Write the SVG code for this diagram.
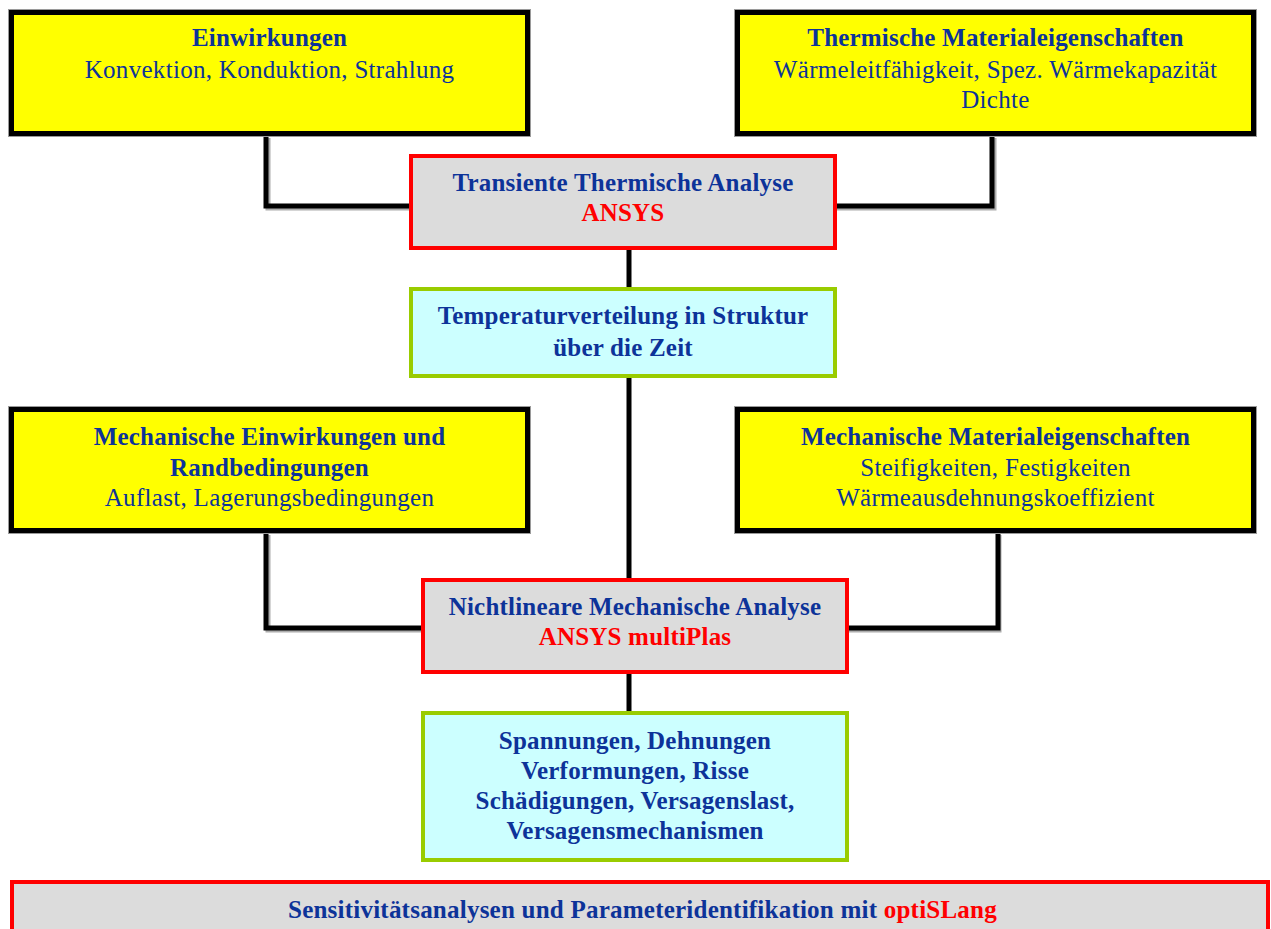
<svg xmlns="http://www.w3.org/2000/svg" width="1271" height="929" viewBox="0 0 1271 929">
<style>
.bg{fill:#FFFFFF}
.y{fill:#FFFF00;stroke:#000000;stroke-width:5}
.ys{fill:none;stroke:#9a9a9a;stroke-width:1}
.r{fill:#DCDCDC;stroke:#FF0000;stroke-width:4}
.g{fill:#CCFFFF;stroke:#99CC00;stroke-width:4}
.c{fill:none;stroke:#000000;stroke-width:5;stroke-linejoin:miter}
.cs{fill:none;stroke:#8a8a8a;stroke-width:5;opacity:0.7}
text{font-family:"Liberation Serif",serif;font-size:25px;fill:#0D3399;text-anchor:middle;letter-spacing:0.3px}
.b{font-weight:bold;letter-spacing:0.2px}
.red{fill:#FF0000}
</style>
<rect class="bg" x="0" y="0" width="1271" height="929"/>
<g id="connectors">
<path class="cs" d="M268 138 V208 H409"/>
<path class="cs" d="M994 138 V208 H837"/>
<path class="cs" d="M999 535 V630 H849"/>
<path class="cs" d="M268 535 V630 H421"/>
<path class="c" d="M266 136 V206 H409"/>
<path class="c" d="M992 136 V206 H837"/>
<path class="c" d="M629 250 V287"/>
<path class="c" d="M629 378 V578"/>
<path class="c" d="M266 533 V628 H421"/>
<path class="c" d="M998 533 V628 H849"/>
<path class="c" d="M629 674 V711"/>
</g>
<g id="einwirkungen">
<rect class="ys" x="8.5" y="9.5" width="522" height="127"/>
<rect class="y" x="11.5" y="12.5" width="516" height="121"/>
<text class="b" x="269.5" y="46">Einwirkungen</text>
<text x="269.5" y="78">Konvektion, Konduktion, Strahlung</text>
</g>
<g id="thermische-materialeigenschaften">
<rect class="ys" x="734.5" y="9.5" width="522" height="127"/>
<rect class="y" x="737.5" y="12.5" width="516" height="121"/>
<text class="b" x="995.5" y="46">Thermische Materialeigenschaften</text>
<text x="995.5" y="78">Wärmeleitfähigkeit, Spez. Wärmekapazität</text>
<text x="995.5" y="108">Dichte</text>
</g>
<g id="transiente-thermische-analyse">
<rect class="r" x="411" y="156" width="424" height="92"/>
<text class="b" x="623" y="191">Transiente Thermische Analyse</text>
<text class="b red" x="623" y="221">ANSYS</text>
</g>
<g id="temperaturverteilung">
<rect class="g" x="411" y="289" width="424" height="87"/>
<text class="b" x="623" y="324">Temperaturverteilung in Struktur</text>
<text class="b" x="623" y="356">über die Zeit</text>
</g>
<g id="mechanische-einwirkungen">
<rect class="ys" x="8.5" y="406.5" width="522" height="127"/>
<rect class="y" x="11.5" y="409.5" width="516" height="121"/>
<text class="b" x="269.5" y="445">Mechanische Einwirkungen und</text>
<text class="b" x="269.5" y="476">Randbedingungen</text>
<text x="269.5" y="506">Auflast, Lagerungsbedingungen</text>
</g>
<g id="mechanische-materialeigenschaften">
<rect class="ys" x="734.5" y="406.5" width="522" height="127"/>
<rect class="y" x="737.5" y="409.5" width="516" height="121"/>
<text class="b" x="995.5" y="445">Mechanische Materialeigenschaften</text>
<text x="995.5" y="476">Steifigkeiten, Festigkeiten</text>
<text x="995.5" y="506">Wärmeausdehnungskoeffizient</text>
</g>
<g id="nichtlineare-mechanische-analyse">
<rect class="r" x="423" y="580" width="424" height="92"/>
<text class="b" x="635" y="615">Nichtlineare Mechanische Analyse</text>
<text class="b red" x="635" y="645">ANSYS multiPlas</text>
</g>
<g id="ergebnisse">
<rect class="g" x="423" y="713" width="424" height="147"/>
<text class="b" x="635" y="749">Spannungen, Dehnungen</text>
<text class="b" x="635" y="779">Verformungen, Risse</text>
<text class="b" x="635" y="809">Schädigungen, Versagenslast,</text>
<text class="b" x="635" y="839">Versagensmechanismen</text>
</g>
<g id="sensitivitaetsanalysen">
<rect class="r" x="12" y="882" width="1256" height="60"/>
<text class="b" x="642.5" y="918" textLength="709" lengthAdjust="spacingAndGlyphs">Sensitivitätsanalysen und Parameteridentifikation mit <tspan class="red">optiSLang</tspan></text>
</g>
</svg>
